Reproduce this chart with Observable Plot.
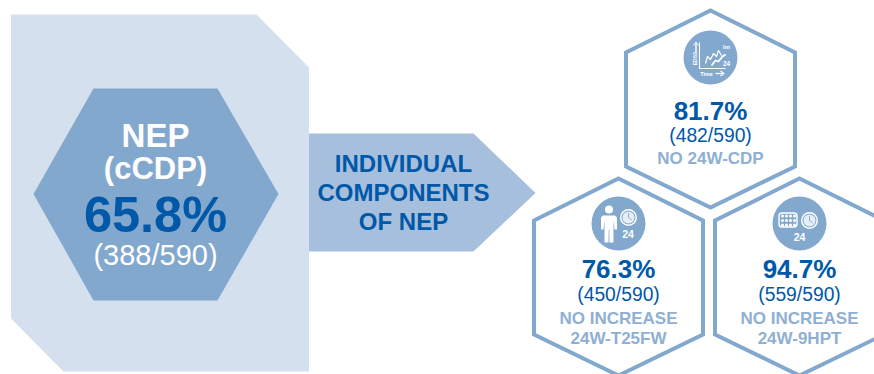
<!DOCTYPE html>
<html>
<head>
<meta charset="utf-8">
<script src="https://cdn.jsdelivr.net/npm/d3@7"></script>
<script src="https://cdn.jsdelivr.net/npm/@observablehq/plot@0.6"></script>
<style>
  html, body { margin: 0; padding: 0; background: #fff; overflow: hidden; }
  svg { display: block; overflow: hidden; }
</style>
</head>
<body>
<div id="chart"></div>
<script>
// Patient counts for the composite endpoint and its components
const totalPatients = 590;
const nepCount = 388;
const componentNames = ["NO 24W-CDP", "NO INCREASE\n24W-T25FW", "NO INCREASE\n24W-9HPT"];
const componentCounts = [482, 450, 559];

const pct = n => (n / totalPatients * 100).toFixed(1) + "%";
const ratio = n => `(${n}/${totalPatients})`;

// Palette
const deep = "#0058a9", mid = "#83a8ce", soft = "#a6bfdc", pale = "#d5e0ee", muted = "#8fafd4";

// Diagram layout in pixel-like units: x and y scales are 1:1 with the canvas
const poly = pts => pts.map(([x, y]) => ({x, y}));
const panelShape = poly([[10.5,14],[256,14],[308.5,67],[308.5,371],[63,371],[10.5,318]]);
const centerHex = poly([[93,88],[217,88],[278,193.5],[217,300],[93,300],[33,193.5]]);
const arrowShape = poly([[308.5,133],[473,133],[535,192.5],[473,251],[308.5,251]]);
const hexAt = (cx, top) => poly([[cx,top],[cx+84.5,top+42],[cx+84.5,top+156],[cx,top+197],[cx-84.5,top+156],[cx-84.5,top+42]]);
const cells = [
  {cx: 710, top: 10, iconY: 57},
  {cx: 618, top: 178, iconY: 223},
  {cx: 799, top: 178, iconY: 223}
];
const percentY = [119, 277, 277];
const ratioY = [141, 300.5, 300.5];
const labelY = [[163.5], [323, 343], [323, 343]];

const area = (pts, fill) => Plot.line(pts, {x: "x", y: "y", curve: "linear-closed", fill, stroke: "none"});
const outline = pts => Plot.line(pts, {
  x: "x", y: "y", curve: "linear-closed", stroke: mid, strokeWidth: 4,
  strokeLinejoin: "miter", strokeMiterlimit: 10
});
const label = (text, x, y, fontSize, fill, fontWeight = "bold", extra = {}) =>
  Plot.text([text], {x: () => x, y: () => y, text: d => d, fontSize, fill, fontWeight, lineAnchor: "bottom", ...extra});
const stroke = (pts, width = 1.2) => Plot.line(poly(pts), {
  x: "x", y: "y", stroke: "#fff", strokeWidth: width, strokeLinecap: "butt"
});
const disc = (x, y, r, opts = {}) => Plot.dot([0], {x: () => x, y: () => y, r, fill: "#fff", stroke: "none", ...opts});

// Clock face: white ring, tinted dial and two hands
const clock = (x, y) => [
  disc(x, y, 8.5),
  disc(x, y, 7, {fill: mid}),
  disc(x, y, 6, {fillOpacity: 0.8}),
  Plot.line(poly([[x, y - 4.2], [x, y], [x + 3, y + 2.2]]), {x: "x", y: "y", stroke: mid, strokeWidth: 0.9})
];

// Icon for confirmed disability progression: EDSS-over-time sketch
const cdpIcon = (x, y) => [
  disc(x, y, 27, {fill: mid}),
  stroke([[x - 11, y - 15], [x - 11, y + 11], [x + 15, y + 11]], 1.1),
  stroke([[x - 14.5, y - 14], [x - 14.5, y - 5]], 1.4),
  stroke([[x - 17, y - 12], [x - 14.5, y - 15.5], [x - 12, y - 12]], 1),
  label("EDSS", x - 15, y + 1, 5, "#fff", "bold", {rotate: -90, lineAnchor: "middle"}),
  stroke([[x - 5, y + 6], [x - 3, y - 1], [x, y + 2], [x + 3, y - 4], [x + 6, y - 1], [x + 8, y - 7], [x + 11, y - 2]], 1.2),
  stroke([[x + 1, y + 8], [x + 5, y + 3], [x + 8, y + 4], [x + 12, y - 1], [x + 15, y - 3]], 1.8),
  label("lm", x + 16, y - 9, 6, "#fff"),
  label("24", x + 16, y + 8, 6.5, "#fff"),
  label("Time", x - 4, y + 18.5, 5.5, "#fff"),
  stroke([[x + 5, y + 16], [x + 13, y + 16]], 1.3),
  stroke([[x + 10, y + 13.5], [x + 13.5, y + 16], [x + 10, y + 18.5]], 1.2)
];

// Icon for the timed 25-foot walk: standing figure next to a clock
const walkIcon = (x, y) => [
  disc(x, y, 27, {fill: mid}),
  disc(x - 9.5, y - 14, 4),
  area(poly([
    [x - 15.5, y - 8], [x - 3.5, y - 8], [x - 1.5, y - 6], [x - 1.5, y + 6], [x - 4, y + 6], [x - 5, y - 3],
    [x - 5, y + 19], [x - 9, y + 19], [x - 9.2, y + 6], [x - 9.8, y + 6], [x - 10, y + 19], [x - 14, y + 19],
    [x - 14, y - 3], [x - 15, y + 6], [x - 17.5, y + 6], [x - 17.5, y - 6]
  ]), "#fff"),
  ...clock(x + 10, y - 6),
  label("24", x + 9.5, y + 14, 10.5, "#fff")
];

// Icon for the nine-hole peg test: pegboard next to a clock
const pegColumns = [0, 1, 2, 3];
const pegRows = [0, 1, 2];
const pegIcon = (x, y) => [
  disc(x, y, 27, {fill: mid}),
  Plot.rect([0], {
    x1: () => x - 20, x2: () => x - 2, y1: () => y - 10, y2: () => y + 4,
    fill: mid, rx: 3, stroke: "#fff", strokeWidth: 1.4
  }),
  Plot.dot(d3.cross(pegColumns, pegRows), {
    x: ([c]) => x - 17 + c * 4, y: ([, r]) => y - 7.5 + r * 4.5, r: 1.5, fill: "#fff", stroke: "none"
  }),
  ...clock(x + 10, y - 3),
  label("24", x, y + 17, 10.5, "#fff")
];

const icons = [cdpIcon, walkIcon, pegIcon];

const chart = Plot.plot({
  width: 874,
  height: 374,
  margin: 0,
  x: {domain: [0, 874], range: [0, 874], axis: null},
  y: {domain: [0, 374], range: [0, 374], axis: null},
  style: {fontFamily: "'Liberation Sans', Arial, sans-serif", background: "#fff"},
  marks: [
    area(panelShape, pale),
    area(centerHex, mid),
    area(arrowShape, soft),

    label("NEP", 155, 146, 33, "#fff"),
    label("(cCDP)", 155, 178, 31, "#fff"),
    label(pct(nepCount), 155, 231, 50.5, deep),
    label(ratio(nepCount), 155, 264, 29, "#fff", "normal"),

    label("INDIVIDUAL", 403, 171, 24, deep),
    label("COMPONENTS", 403, 200, 24, deep),
    label("OF NEP", 403, 229, 24, deep),

    cells.map((c, i) => [
      outline(hexAt(c.cx, c.top)),
      icons[i](c.cx, c.iconY),
      label(pct(componentCounts[i]), c.cx, percentY[i], 26, deep),
      label(ratio(componentCounts[i]), c.cx, ratioY[i], 19.3, deep, "normal"),
      componentNames[i].split("\n").map((line, j) => label(line, c.cx, labelY[i][j], 17, muted))
    ])
  ]
});

document.getElementById("chart").appendChild(chart);
</script>
</body>
</html>
